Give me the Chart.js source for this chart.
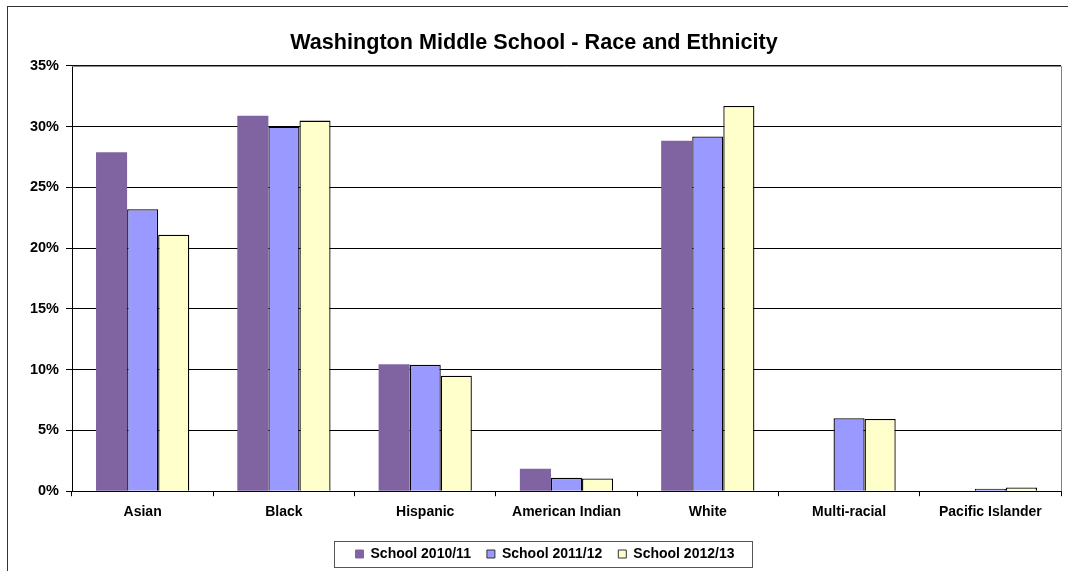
<!DOCTYPE html>
<html>
<head>
<meta charset="utf-8">
<script src="https://cdn.jsdelivr.net/npm/chart.js@4"></script>
<style>
  html, body { margin: 0; padding: 0; background: #fff; }
  #wrap { width: 1068px; height: 571px; position: relative; }
</style>
</head>
<body>
<div id="wrap"><canvas id="chart"></canvas></div>
<script>
// ---------- data ----------
const categories = ["Asian", "Black", "Hispanic", "American Indian", "White", "Multi-racial", "Pacific Islander"];
const seriesNames = ["School 2010/11", "School 2011/12", "School 2012/13"];
const school2010 = [27.9, 30.9, 10.45, 1.85, 28.85, 0, 0];
const school2011 = [23.2, 30.0, 10.4, 1.1, 29.2, 6.0, 0.2];
const school2012 = [21.1, 30.5, 9.5, 1.05, 31.7, 5.95, 0.3];
const yTicks = [0, 5, 10, 15, 20, 25, 30, 35];

const FONT = "'Liberation Sans', Arial, sans-serif";

// outer frame + grey plot border + box around legend
const framePlugin = {
  id: "frame",
  afterLayout(chart) {
    // legend sits a bit right of the title in the original
    chart.legend.left += 11;
    chart.legend.right += 11;
  },
  beforeDatasetsDraw(chart) {
    const { ctx, chartArea: a } = chart;
    ctx.save();
    ctx.strokeStyle = "#808080";
    ctx.lineWidth = 1;
    ctx.beginPath();
    ctx.moveTo(a.left, a.top + 0.5);
    ctx.lineTo(Math.round(a.right) + 0.5, a.top + 0.5);
    ctx.lineTo(Math.round(a.right) + 0.5, a.bottom);
    ctx.stroke();
    ctx.restore();
  },
  afterDraw(chart) {
    const ctx = chart.ctx;
    ctx.save();
    ctx.strokeStyle = "#333";
    ctx.lineWidth = 1;
    ctx.strokeRect(7.5, 6.5, 1200, 700);

    const boxes = chart.legend.legendHitBoxes;
    if (boxes && boxes.length) {
      const l = Math.min(...boxes.map(b => b.left));
      const r = Math.max(...boxes.map(b => b.left + b.width));
      const t = Math.min(...boxes.map(b => b.top));
      const btm = Math.max(...boxes.map(b => b.top + b.height));
      ctx.strokeStyle = "#555";
      ctx.strokeRect(Math.round(l - 22) + 0.5, Math.round(t - 6) + 0.5,
                     Math.round(r - l + 39), Math.round(btm - t + 12));
    }
    ctx.restore();
  }
};

new Chart(document.getElementById("chart"), {
  type: "bar",
  data: {
    labels: categories,
    datasets: [
      { label: seriesNames[0], data: school2010, backgroundColor: "#8064a2", borderColor: "#8064a2", borderWidth: 0 },
      { label: seriesNames[1], data: school2011, backgroundColor: "#9999ff", borderColor: "#000", borderWidth: 1.3 },
      { label: seriesNames[2], data: school2012, backgroundColor: "#ffffcc", borderColor: "#000", borderWidth: 1.3 },
    ],
  },
  options: {
    responsive: true,
    maintainAspectRatio: false,
    animation: false,
    layout: { padding: { top: 14, left: 7, right: 7, bottom: 0 } },
    datasets: { bar: { categoryPercentage: 0.66, barPercentage: 1.0 } },
    plugins: {
      title: {
        display: true,
        text: "Washington Middle School - Race and Ethnicity",
        color: "#000",
        font: { family: FONT, size: 21.6, weight: "bold" },
        padding: { top: 16, bottom: 10 },
      },
      legend: {
        position: "bottom",
        labels: {
          color: "#000",
          font: { family: FONT, size: 14, weight: "bold" },
          boxWidth: 8,
          boxHeight: 8,
          padding: 16,
          useBorderRadius: false,
          generateLabels(chart) {
            return chart.data.datasets.map((ds, i) => ({
              text: ds.label,
              fillStyle: ds.backgroundColor,
              strokeStyle: i === 0 ? ds.backgroundColor : "#333",
              lineWidth: 1,
              datasetIndex: i,
              hidden: false,
            }));
          },
        },
      },
      tooltip: { enabled: false },
    },
    scales: {
      x: {
        afterFit(axis) { axis.height += 2; },
        grid: { display: true, drawOnChartArea: false, drawTicks: true, tickLength: 5, color: "#000" },
        border: { display: true, color: "#000" },
        ticks: { color: "#000", font: { family: FONT, size: 14, weight: "bold" }, padding: 8, maxRotation: 0 },
      },
      y: {
        min: 0,
        max: 35,
        afterBuildTicks(axis) { axis.ticks = yTicks.map(v => ({ value: v })); },
        afterFit(axis) { axis.width = 65; },
        grid: { color: "#000", lineWidth: 1, drawTicks: true, tickLength: 6, tickColor: "#000" },
        border: { display: true, color: "#000" },
        ticks: {
          color: "#000",
          font: { family: FONT, size: 14.5, weight: "bold" },
          padding: 7,
          callback: v => v + "%",
        },
      },
    },
  },
  plugins: [framePlugin],
});
</script>
</body>
</html>
